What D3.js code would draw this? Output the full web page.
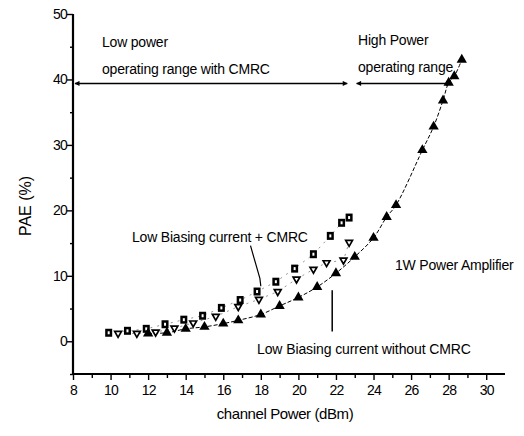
<!DOCTYPE html>
<html>
<head>
<meta charset="utf-8">
<script src="https://cdn.jsdelivr.net/npm/d3@7"></script>
<style>
  body { margin: 0; background: #fff; }
  svg text { font-family: "Liberation Sans", Arial, sans-serif; fill: #000; }
</style>
</head>
<body>
<div id="chart"></div>
<script>
// 1W PA, filled up-triangles
var triX = [12, 13, 14, 15, 16, 16.8, 18, 19, 20, 21, 22, 23, 24, 24.7, 25.2, 26.6, 27.2, 27.7, 28.0, 28.3, 28.7];
var triY = [1.2, 1.3, 1.9, 2.2, 2.7, 3.2, 4.1, 5.4, 6.7, 8.3, 10.4, 12.9, 15.8, 19.0, 20.8, 29.2, 32.8, 36.8, 39.5, 40.5, 43.0];

// low biasing current + CMRC, squares
var sqX = [9.9, 10.9, 11.9, 12.9, 13.9, 14.9, 15.9, 16.9, 17.8, 18.8, 19.8, 20.8, 21.7, 22.3, 22.7];
var sqY = [1.3, 1.6, 1.9, 2.6, 3.3, 3.9, 5.1, 6.3, 7.6, 9.1, 11.1, 13.3, 16.1, 18.1, 18.9];

// low biasing current without CMRC, down-triangles
var dtX = [10.4, 11.4, 12.4, 13.4, 14.4, 15.6, 16.8, 17.9, 18.9, 19.9, 20.8, 21.5, 22.4, 22.7];
var dtY = [1.2, 1.2, 1.4, 2.0, 2.8, 3.8, 5.3, 6.4, 7.6, 9.5, 11.0, 12.0, 12.4, 15.1];

var xTicks = [8, 10, 12, 14, 16, 18, 20, 22, 24, 26, 28, 30];
var yTicks = [0, 10, 20, 30, 40, 50];

var svgWidth = 524;
var svgHeight = 436;

var svg = d3.select("#chart").append("svg")
    .attr("width", svgWidth)
    .attr("height", svgHeight);

var x = d3.scaleLinear().domain([8, 31]).range([73, 505]);
var y = d3.scaleLinear().domain([-5, 50]).range([374, 14]);

function zip(xs, ys) {
    return xs.map((d, i) => ({ x: d, y: ys[i] }));
}

var tri = zip(triX, triY);
var sq = zip(sqX, sqY);
var dt = zip(dtX, dtY);

var defs = svg.append("defs");
defs.append("marker")
    .attr("id", "arrow")
    .attr("viewBox", "0 0 10 10")
    .attr("refX", 9).attr("refY", 5)
    .attr("markerWidth", 9).attr("markerHeight", 5)
    .attr("markerUnits", "userSpaceOnUse")
    .attr("orient", "auto-start-reverse")
    .append("path")
    .attr("d", "M0,0 L10,5 L0,10 z")
    .attr("fill", "#000");

// axes
var xAxis = svg.append("g")
    .attr("transform", `translate(0, ${y(-5)})`)
    .call(d3.axisBottom(x).tickValues(d3.range(8, 31, 1)).tickSize(5)
        .tickFormat(d => xTicks.includes(d) ? d : ""));
xAxis.selectAll(".tick line").attr("y2", d => d % 2 == 0 ? 6 : 4).attr("stroke-width", 1.4);
xAxis.selectAll(".tick text").attr("font-size", "14px").attr("dy", "0.95em").attr("letter-spacing", "-0.8px");
xAxis.select(".domain").attr("stroke-width", 2.2).attr("d", `M${x(8)},0H${x(31)}`);

var yAxis = svg.append("g")
    .attr("transform", `translate(${x(8)}, 0)`)
    .call(d3.axisLeft(y).tickValues(d3.range(-5, 51, 5)).tickSize(5)
        .tickFormat(d => yTicks.includes(d) ? d : ""));
yAxis.selectAll(".tick line").attr("x2", d => d % 10 == 0 ? -6 : -3).attr("stroke-width", 1.4);
yAxis.selectAll(".tick text").attr("font-size", "14px").attr("x", -6).attr("letter-spacing", "-0.8px");
yAxis.select(".domain").attr("stroke-width", 2.2).attr("d", `M0,${y(-5)}V${y(50)}`);

// axis labels
svg.append("text")
    .attr("transform", `translate(31, ${206}) rotate(-90)`)
    .attr("text-anchor", "middle")
    .attr("font-size", "16px")
    .text("PAE (%)");

svg.append("text")
    .attr("x", 285)
    .attr("y", 419)
    .attr("text-anchor", "middle")
    .attr("font-size", "15px")
    .attr("letter-spacing", "-0.4px")
    .text("channel Power (dBm)");

// connecting lines
var line = d3.line().x(d => x(d.x)).y(d => y(d.y));

svg.append("path")
    .datum(tri)
    .attr("d", line.curve(d3.curveCatmullRom))
    .attr("fill", "none")
    .attr("stroke", "#000")
    .attr("stroke-width", 1)
    .attr("stroke-dasharray", "4,2");

svg.append("path")
    .datum(sq)
    .attr("d", d3.line().x(d => x(d.x)).y(d => y(d.y)))
    .attr("fill", "none")
    .attr("stroke", "#777")
    .attr("stroke-width", 0.8)
    .attr("stroke-dasharray", "2,5");

svg.append("path")
    .datum(dt)
    .attr("d", d3.line().x(d => x(d.x)).y(d => y(d.y)))
    .attr("fill", "none")
    .attr("stroke", "#777")
    .attr("stroke-width", 0.8)
    .attr("stroke-dasharray", "2,5");

// markers
svg.selectAll(".sq")
    .data(sq)
    .enter()
    .append("rect")
    .attr("x", d => x(d.x) - 3.5)
    .attr("y", d => y(d.y) - 4)
    .attr("width", 7)
    .attr("height", 8)
    .attr("fill", "#000");
svg.selectAll(".sqIn")
    .data(sq)
    .enter()
    .append("rect")
    .attr("x", d => x(d.x) - 1)
    .attr("y", d => y(d.y) - 1.5)
    .attr("width", 2)
    .attr("height", 3)
    .attr("fill", "#fff");

svg.selectAll(".dt")
    .data(dt)
    .enter()
    .append("path")
    .attr("transform", d => `translate(${x(d.x)}, ${y(d.y)}) rotate(180)`)
    .attr("d", d3.symbol().type(d3.symbolTriangle).size(20))
    .attr("fill", "#fff")
    .attr("stroke", "#000")
    .attr("stroke-width", 1.7);

svg.selectAll(".tri")
    .data(tri)
    .enter()
    .append("path")
    .attr("transform", d => `translate(${x(d.x)}, ${y(d.y)})`)
    .attr("d", d3.symbol().type(d3.symbolTriangle).size(46))
    .attr("fill", "#000");

// range arrows
svg.append("line")
    .attr("x1", x(8) + 2).attr("x2", x(22.6))
    .attr("y1", y(39.4)).attr("y2", y(39.4))
    .attr("stroke", "#000").attr("stroke-width", 1.5)
    .attr("marker-start", "url(#arrow)")
    .attr("marker-end", "url(#arrow)");

svg.append("line")
    .attr("x1", x(23.1)).attr("x2", x(28.1))
    .attr("y1", y(39.4)).attr("y2", y(39.4))
    .attr("stroke", "#000").attr("stroke-width", 1.5)
    .attr("marker-start", "url(#arrow)")
    .attr("marker-end", "url(#arrow)");

// annotations
function note(tx, ty, str, size, ls, color) {
    return svg.append("text")
        .attr("x", tx).attr("y", ty)
        .attr("font-size", size + "px")
        .attr("letter-spacing", ls + "px")
        .attr("fill", color || "#000")
        .text(str);
}

note(102, 47, "Low power", 14, -0.2);
note(102, 74, "operating range with CMRC", 14, -0.2);
note(358, 45, "High Power", 14, -0.2);
note(358, 72, "operating range", 14, -0.2);
note(132, 242, "Low Biasing current + CMRC", 14, -0.2);
note(395, 270, "1W Power Amplifier", 14, -0.2);
note(257, 354, "Low Biasing current without CMRC", 14, -0.1, "#999");

// leader lines
svg.append("path")
    .attr("d", `M${x(17.45)},${y(14.6)} L${x(17.95)},${y(9.6)} L${x(18.0)},${y(8.4)}`)
    .attr("fill", "none")
    .attr("stroke", "#000")
    .attr("stroke-width", 1.2);

svg.append("line")
    .attr("x1", x(21.8)).attr("x2", x(21.8))
    .attr("y1", y(7.8)).attr("y2", y(1.5))
    .attr("stroke", "#000")
    .attr("stroke-width", 1.5);
</script>
</body>
</html>
